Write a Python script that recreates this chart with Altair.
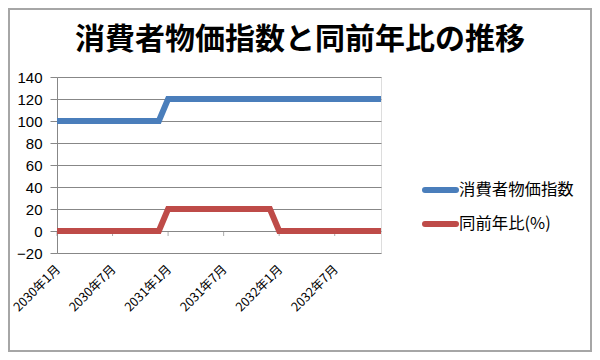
import altair as alt
import pandas as pd

months = [
    "2030年1月", "2030年2月", "2030年3月", "2030年4月", "2030年5月", "2030年6月",
    "2030年7月", "2030年8月", "2030年9月", "2030年10月", "2030年11月", "2030年12月",
    "2031年1月", "2031年2月", "2031年3月", "2031年4月", "2031年5月", "2031年6月",
    "2031年7月", "2031年8月", "2031年9月", "2031年10月", "2031年11月", "2031年12月",
    "2032年1月", "2032年2月", "2032年3月", "2032年4月", "2032年5月", "2032年6月",
    "2032年7月", "2032年8月", "2032年9月", "2032年10月", "2032年11月", "2032年12月",
]
cpi = [100, 100, 100, 100, 100, 100, 100, 100, 100, 100, 100, 100,
       120, 120, 120, 120, 120, 120, 120, 120, 120, 120, 120, 120,
       120, 120, 120, 120, 120, 120, 120, 120, 120, 120, 120, 120]
yoy = [0, 0, 0, 0, 0, 0, 0, 0, 0, 0, 0, 0,
       20, 20, 20, 20, 20, 20, 20, 20, 20, 20, 20, 20,
       0, 0, 0, 0, 0, 0, 0, 0, 0, 0, 0, 0]
series = ["消費者物価指数", "同前年比(%)"]
colors = ["#4A7EBB", "#BE4B48"]
tick_labels = ["2030年1月", "2030年7月", "2031年1月", "2031年7月", "2032年1月", "2032年7月"]
tick_base = [0, 0, 0, 0, 0, 0]
y_ticks = [-20, 0, 20, 40, 60, 80, 100, 120, 140]
title = "消費者物価指数と同前年比の推移"

FONT = "Noto Sans CJK JP"
GRID = "#878787"

rows = []
for m, v in zip(months, cpi):
    rows.append({"month": m, "value": v, "series": series[0]})
for m, v in zip(months, yoy):
    rows.append({"month": m, "value": v, "series": series[1]})
df = pd.DataFrame(rows)

x_enc = alt.X(
    "month:O",
    sort=months,
    scale=alt.Scale(type="point", domain=months, padding=0),
    axis=alt.Axis(
        values=tick_labels, labels=False, domain=False, ticks=False, grid=False,
        title=None,
    ),
)
y_enc = alt.Y(
    "value:Q",
    scale=alt.Scale(domain=[-20, 140], nice=False, zero=False),
    axis=alt.Axis(
        values=y_ticks, grid=True, gridColor=GRID, gridWidth=1, domain=True,
        domainColor=GRID, tickColor=GRID, tickSize=7, labelFont="Liberation Sans",
        labelFontSize=15, labelColor="black", labelPadding=8, labelOverlap=False,
        labelBound=False, title=None,
    ),
)

lines = alt.Chart(df).mark_line(strokeWidth=6).encode(
    x=x_enc,
    y=y_enc,
    color=alt.Color("series:N", scale=alt.Scale(domain=series, range=colors), legend=None),
    detail="series:N",
)

ticks_df = pd.DataFrame({"month": tick_labels, "value": tick_base})
cat_ticks = alt.Chart(ticks_df).mark_tick(
    orient="vertical", size=5, thickness=1, color=GRID, yOffset=2.5
).encode(x=x_enc, y=y_enc)

x_labels = alt.Chart(ticks_df).mark_text(
    angle=315, align="right", baseline="top", font=FONT, fontSize=12.5,
    color="black", xOffset=-3,
).encode(x=x_enc, y=alt.value(186), text="month:N")

# legend (manual)
legend_layers = []
for i, (s, c) in enumerate(zip(series, colors)):
    ld = pd.DataFrame({"name": [s]})
    ypos = 113 + i * 34
    legend_layers.append(
        alt.Chart(ld).mark_rule(strokeWidth=6, strokeCap="round", color=c).encode(
            x=alt.value(368), x2=alt.value(399), y=alt.value(ypos)
        )
    )
    legend_layers.append(
        alt.Chart(ld).mark_text(
            align="left", baseline="middle", font=FONT, fontSize=16.4, color="black"
        ).encode(x=alt.value(402), y=alt.value(ypos), text="name:N")
    )

title_layer = alt.Chart(pd.DataFrame({"t": [title]})).mark_text(
    align="center", baseline="middle", font=FONT, fontSize=30, fontWeight="bold", color="black"
).encode(x=alt.value(243), y=alt.value(-37), text="t:N")

border = alt.Chart(pd.DataFrame({"b": [0]})).mark_rect(
    filled=False, stroke="#a6a6a6", strokeWidth=2
).encode(x=alt.value(-48), x2=alt.value(534), y=alt.value(-68), y2=alt.value(274))

chart = alt.layer(cat_ticks, lines, x_labels, *legend_layers, title_layer, border).properties(
    width=324,
    height=176,
    padding={"left": 49, "top": 69, "right": 211, "bottom": 99},
    autosize=alt.AutoSizeParams(type="none"),
).configure_view(stroke=None).configure(background="white")

chart.save("out.html", embed_options={"renderer": "svg", "actions": False})
